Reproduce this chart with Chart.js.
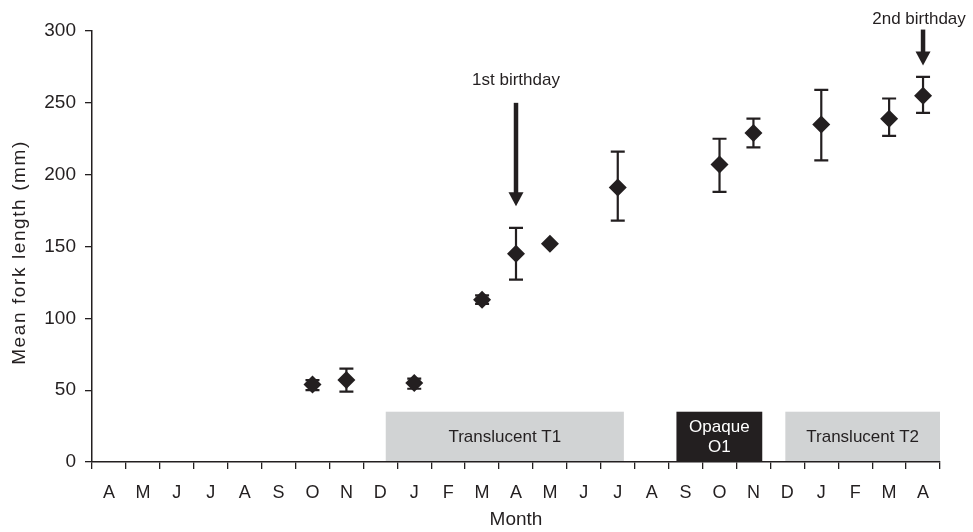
<!DOCTYPE html>
<html>
<head>
<meta charset="utf-8">
<script src="https://cdn.jsdelivr.net/npm/chart.js@4.4.0/dist/chart.umd.min.js"></script>
<style>
  html, body { margin: 0; padding: 0; background: #fff; }
  #wrap { width: 973px; height: 532px; }
</style>
</head>
<body>
<div id="wrap"><canvas id="myChart"></canvas></div>
<script>
// donnees
const months = ['A','M','J','J','A','S','O','N','D','J','F','M','A','M','J','J','A','S','O','N','D','J','F','M','A'];
const meanLength = [null,null,null,null,null,null,54,57,null,55,null,113,145,152,null,191,null,null,207,229,null,235,null,239,255];
const lowerLength = [null,null,null,null,null,null,50,49,null,51,null,110,127,152,null,168,null,null,188,219,null,210,null,227,243];
const upperLength = [null,null,null,null,null,null,57,65,null,58,null,116,163,152,null,216,null,null,225,239,null,259,null,253,268];
const yTicks = [0, 50, 100, 150, 200, 250, 300];

// zones (index de mois, fractionnaire)
const zoneNames = [['Translucent T1'], ['Opaque', 'O1'], ['Translucent T2']];
const zoneStart = [8.16, 16.73, 19.94];
const zoneEnd = [15.18, 19.26, 24.5];
const zoneTop = 35;

// anniversaires
const birthdayNames = ['1st birthday', '2nd birthday'];
const birthdayIndex = [12, 24];
const birthdayFrom = [250, 301];
const birthdayTo = [178, 276];
const birthdayText = [266, 308];

const yTitle = 'Mean fork length (mm)';

const ink = '#231f20';
const font = "'Liberation Sans', Arial, sans-serif";

// zones grises/noires
const zonesPlugin = {
  id: 'zones',
  beforeDatasetsDraw(chart) {
    const ctx = chart.ctx;
    const x = chart.scales.x, y = chart.scales.y;
    ctx.save();
    for (let i = 0; i < zoneNames.length; i++) {
      const x1 = x.getPixelForValue(zoneStart[i]);
      const x2 = x.getPixelForValue(zoneEnd[i]);
      const y1 = y.getPixelForValue(zoneTop);
      const y2 = y.getPixelForValue(0);
      const dark = zoneNames[i].length > 1;
      ctx.fillStyle = dark ? ink : '#d1d3d4';
      ctx.fillRect(x1, y1, x2 - x1, y2 - y1 - 1);
      ctx.fillStyle = dark ? '#ffffff' : ink;
      ctx.font = '17px ' + font;
      ctx.textAlign = 'center';
      ctx.textBaseline = 'middle';
      const lines = zoneNames[i];
      const mid = (y1 + y2) / 2;
      for (let l = 0; l < lines.length; l++) {
        ctx.fillText(lines[l], (x1 + x2) / 2, mid + (l - (lines.length - 1) / 2) * 20);
      }
    }
    ctx.restore();
  }
};

// barres d'erreur
const errorBarsPlugin = {
  id: 'errorBars',
  beforeDatasetsDraw(chart) {
    const ctx = chart.ctx;
    const x = chart.scales.x, y = chart.scales.y;
    ctx.save();
    ctx.strokeStyle = ink;
    ctx.lineWidth = 2.2;
    for (let i = 0; i < months.length; i++) {
      if (meanLength[i] == null || lowerLength[i] == upperLength[i]) continue;
      const px = x.getPixelForValue(i);
      const yl = y.getPixelForValue(lowerLength[i]);
      const yh = y.getPixelForValue(upperLength[i]);
      ctx.beginPath();
      ctx.moveTo(px, yl); ctx.lineTo(px, yh);
      ctx.moveTo(px - 7, yl); ctx.lineTo(px + 7, yl);
      ctx.moveTo(px - 7, yh); ctx.lineTo(px + 7, yh);
      ctx.stroke();
    }
    ctx.restore();
  }
};

// fleches + titre vertical
const arrowsPlugin = {
  id: 'arrows',
  afterDatasetsDraw(chart) {
    const ctx = chart.ctx;
    const x = chart.scales.x, y = chart.scales.y;
    ctx.save();
    for (let i = 0; i < birthdayNames.length; i++) {
      const px = x.getPixelForValue(birthdayIndex[i]);
      const y1 = y.getPixelForValue(birthdayFrom[i]);
      const y2 = y.getPixelForValue(birthdayTo[i]);
      ctx.strokeStyle = ink;
      ctx.fillStyle = ink;
      ctx.lineWidth = 4.5;
      ctx.beginPath();
      ctx.moveTo(px, y1); ctx.lineTo(px, y2 - 12);
      ctx.stroke();
      ctx.beginPath();
      ctx.moveTo(px - 7.5, y2 - 14);
      ctx.lineTo(px + 7.5, y2 - 14);
      ctx.lineTo(px, y2);
      ctx.closePath();
      ctx.fill();
      ctx.font = '17px ' + font;
      ctx.textAlign = 'center';
      ctx.textBaseline = 'middle';
      ctx.fillText(birthdayNames[i], i == 1 ? px - 4 : px, y.getPixelForValue(birthdayText[i]));
    }
    ctx.restore();

    // titre axe y
    ctx.save();
    const area = chart.chartArea;
    ctx.translate(20, (area.top + area.bottom) / 2 + 6);
    ctx.rotate(-Math.PI / 2);
    ctx.font = '19px ' + font;
    ctx.fillStyle = ink;
    ctx.textAlign = 'center';
    ctx.textBaseline = 'middle';
    if ('letterSpacing' in ctx) ctx.letterSpacing = '1.6px';
    ctx.fillText(yTitle, 0, 0);
    ctx.restore();
  }
};

const config = {
  type: 'line',
  data: {
    labels: months,
    datasets: [{
      label: 'Mean fork length',
      data: meanLength,
      showLine: false,
      pointStyle: 'rectRot',
      pointRadius: 9,
      pointHoverRadius: 9,
      backgroundColor: ink,
      borderColor: ink,
      borderWidth: 0
    }]
  },
  options: {
    responsive: false,
    animation: false,
    layout: { padding: { top: 31, right: 33, left: 0, bottom: 0 } },
    plugins: {
      legend: { display: false },
      tooltip: { enabled: false }
    },
    scales: {
      x: {
        type: 'category',
        offset: true,
        afterFit: (s) => { s.height = 70; },
        grid: { display: true, offset: true, drawOnChartArea: false, tickLength: 7, color: ink, lineWidth: 1.3 },
        border: { color: ink, width: 1.5 },
        ticks: { color: ink, font: { family: font, size: 18 }, padding: 13, maxRotation: 0, autoSkip: false },
        title: { display: true, text: 'Month', color: ink, font: { family: font, size: 19 }, padding: { top: 0, bottom: 1 } }
      },
      y: {
        min: 0,
        max: 300,
        afterFit: (s) => { s.width = 92; },
        afterBuildTicks: (s) => { s.ticks = yTicks.map(v => ({ value: v })); },
        grid: { display: true, drawOnChartArea: false, tickLength: 7, color: ink, lineWidth: 1.3 },
        border: { color: ink, width: 1.5 },
        ticks: { color: ink, font: { family: font, size: 19 }, padding: 9 },
        title: { display: false }
      }
    }
  },
  plugins: [zonesPlugin, errorBarsPlugin, arrowsPlugin]
};

const canvas = document.getElementById('myChart');
canvas.width = 973;
canvas.height = 532;
const myChart = new Chart(canvas, config);
</script>
</body>
</html>
